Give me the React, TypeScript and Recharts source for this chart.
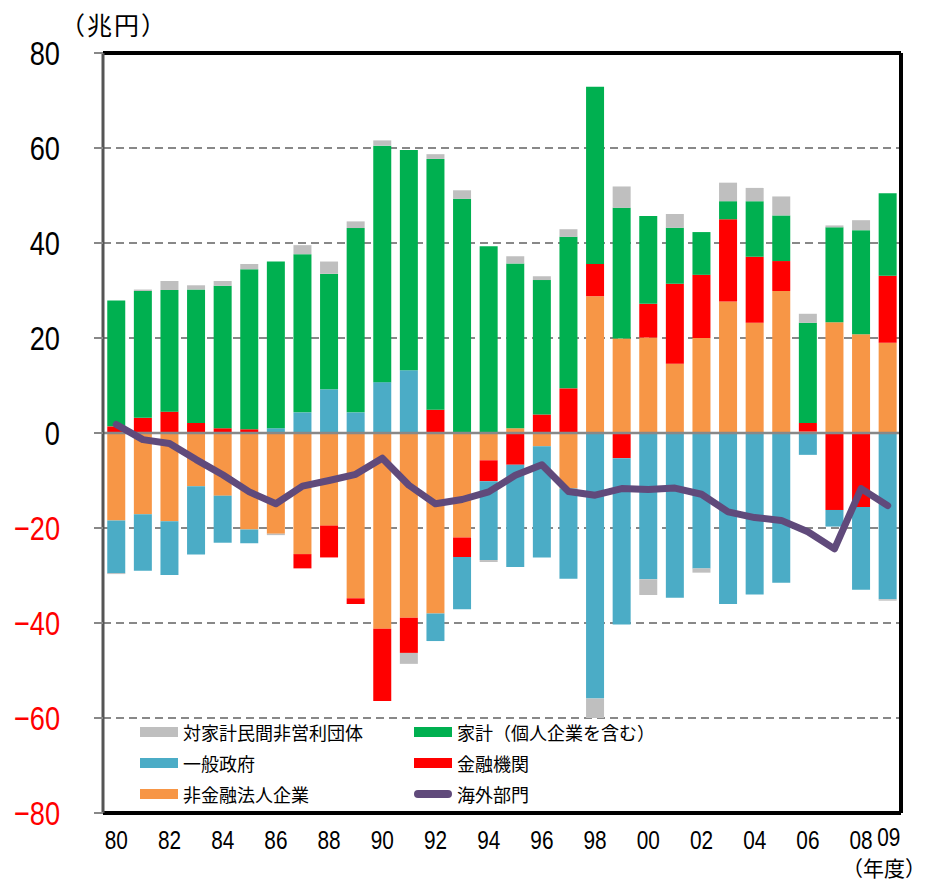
import React from 'react'
import {
  ComposedChart,
  Bar,
  Line,
  XAxis,
  YAxis,
  CartesianGrid,
  ReferenceLine,
  Legend,
} from 'recharts'

const years = [
  '80', '81', '82', '83', '84', '85', '86', '87', '88', '89',
  '90', '91', '92', '93', '94', '95', '96', '97', '98', '99',
  '00', '01', '02', '03', '04', '05', '06', '07', '08', '09',
]

// 非金融法人企業
const nonFinancial = [
  -18.4, -17.1, -18.6, -11.2, -13.2, -20.3, -21.2, -25.5, -19.5, -34.8,
  -41.2, -38.9, -38.0, -22.0, -5.75, 1.0, -2.8, -11.7, 28.8, 19.9,
  20.1, 14.6, 20.0, 27.7, 23.2, 29.9, 0.3, 23.3, 20.8, 19.0,
]
// 金融機関
const financial = [
  1.4, 3.2, 4.5, 2.1, 1.0, 0.8, 0, -3.0, -6.7, -1.2,
  -15.2, -7.4, 4.9, -4.1, -4.4, -6.7, 3.9, 9.4, 6.8, -5.3,
  7.1, 16.8, 13.3, 17.3, 13.9, 6.3, 1.8, -16.2, -15.6, 14.1,
]
// 一般政府
const government = [
  -11.1, -11.9, -11.3, -14.4, -9.9, -2.9, 1.0, 4.35, 9.2, 4.35,
  10.7, 13.2, -5.8, -11.0, -16.6, -21.5, -23.4, -19.0, -55.9, -35.0,
  -30.8, -34.7, -28.5, -36.0, -34.0, -31.5, -4.6, -3.5, -17.4, -35.0,
]
// 家計（個人企業を含む）
const households = [
  26.5, 26.7, 25.6, 28.1, 30.0, 33.7, 35.1, 33.3, 24.3, 38.8,
  49.8, 46.4, 52.8, 49.3, 39.3, 34.7, 28.3, 31.9, 37.3, 27.5,
  18.5, 11.8, 9.0, 3.8, 11.7, 9.6, 21.1, 20.0, 21.9, 17.4,
]
// 対家計民間非営利団体
const npish = [
  -0.2, 0.3, 1.9, 0.9, 1.0, 1.1, -0.3, 1.9, 2.6, 1.4,
  1.1, -2.3, 1.0, 1.8, -0.4, 1.5, 0.8, 1.6, -4.1, 4.5,
  -3.3, 2.9, -0.9, 3.9, 2.8, 4.0, 1.9, 0.4, 2.1, -0.3,
]
// 海外部門
const overseas = [
  1.8, -1.4, -2.2, -5.6, -8.8, -12.4, -14.9, -11.2, -10.0, -8.7,
  -5.3, -11.0, -14.9, -14.0, -12.4, -8.9, -6.7, -12.3, -13.1, -11.7,
  -11.9, -11.6, -12.9, -16.6, -17.8, -18.4, -20.8, -24.4, -11.7, -15.3,
]

const yTicks = [-80, -60, -40, -20, 0, 20, 40, 60, 80]

const data = years.map((y, i) => ({
  year: y,
  nonFinancial: nonFinancial[i],
  financial: financial[i],
  government: government[i],
  households: households[i],
  npish: npish[i],
  overseas: overseas[i],
}))

const NUM_FONT = "'Liberation Sans', 'Noto Sans CJK JP', sans-serif"
const JP_FONT = "'Noto Sans CJK JP', sans-serif"

const legendItems = [
  { name: '対家計民間非営利団体', color: '#BFBFBF', line: false },
  { name: '家計（個人企業を含む）', color: '#00B050', line: false },
  { name: '一般政府', color: '#4BACC6', line: false },
  { name: '金融機関', color: '#FF0000', line: false },
  { name: '非金融法人企業', color: '#F79646', line: false },
  { name: '海外部門', color: '#604A7B', line: true },
]

const renderLegend = () => (
  <div
    style={{
      display: 'grid',
      gridTemplateColumns: '274px 300px',
      rowGap: 9,
      fontFamily: JP_FONT,
      fontSize: 18,
      color: '#000',
    }}
  >
    {legendItems.map((item) => (
      <div key={item.name} style={{ display: 'flex', alignItems: 'center', height: 22 }}>
        <span
          style={{
            display: 'inline-block',
            width: 38,
            height: item.line ? 8 : 10,
            borderRadius: item.line ? 4 : 0,
            background: item.color,
            marginRight: 5,
          }}
        />
        <span>{item.name}</span>
      </div>
    ))}
  </div>
)

// narrow, tall numerals like the original
const YTick = (props: any) => {
  const { x, y, payload } = props
  const v = payload.value
  return (
    <text
      transform={`translate(${x},${y}) scale(0.8,1)`}
      textAnchor="end"
      dominantBaseline="central"
      fontFamily={NUM_FONT}
      fontSize={34}
      fill={v < 0 ? '#FF0000' : '#000'}
    >
      {v < 0 ? `−${Math.abs(v)}` : v}
    </text>
  )
}

const XTick = (props: any) => {
  const { x, y, payload, index } = props
  const last = index === years.length - 1
  if (index % 2 !== 0 && !last) return null
  return (
    <text
      transform={`translate(${x + (last ? 1 : 0)},${y + (last ? 22 : 25)}) scale(0.8,1)`}
      textAnchor="middle"
      dominantBaseline="central"
      fontFamily={NUM_FONT}
      fontSize={26}
      fill="#000"
    >
      {payload.value}
    </text>
  )
}

export default function App() {
  return (
    <div style={{ position: 'relative', left: -8, top: -8, width: 934, height: 884, background: '#fff' }}>
      <div
        style={{
          position: 'absolute',
          left: 60,
          top: 7,
          fontFamily: JP_FONT,
          fontSize: 25,
          letterSpacing: 2,
          lineHeight: '34px',
        }}
      >
        （兆円）
      </div>
      <div
        style={{
          position: 'absolute',
          left: 842,
          top: 856,
          fontFamily: JP_FONT,
          fontSize: 21,
          lineHeight: '22px',
          whiteSpace: 'nowrap',
        }}
      >
        （年度）
      </div>
      <ComposedChart
        width={934}
        height={884}
        data={data}
        stackOffset="sign"
        barCategoryGap="16%"
        margin={{ top: 52, right: 32, bottom: 31, left: 0 }}
      >
        <CartesianGrid vertical={false} stroke="#888" strokeWidth={2} strokeDasharray="8 5" />
        <XAxis
          dataKey="year"
          interval={0}
          height={40}
          tick={<XTick />}
          tickLine={false}
          tickSize={0}
          axisLine={{ stroke: '#000', strokeWidth: 4 }}
        />
        <XAxis
          xAxisId="top"
          dataKey="year"
          orientation="top"
          height={1}
          tick={false}
          tickLine={false}
          axisLine={{ stroke: '#000', strokeWidth: 4 }}
        />
        <YAxis
          type="number"
          domain={[-80, 80]}
          ticks={yTicks}
          interval={0}
          width={103}
          tick={<YTick />}
          tickSize={9}
          tickMargin={34}
          tickLine={{ stroke: '#888', strokeWidth: 2 }}
          axisLine={{ stroke: '#555', strokeWidth: 3 }}
        />
        <YAxis
          yAxisId="right"
          type="number"
          orientation="right"
          domain={[-80, 80]}
          ticks={yTicks}
          width={1}
          tick={false}
          tickLine={false}
          axisLine={{ stroke: '#000', strokeWidth: 4 }}
        />
        <Bar dataKey="nonFinancial" name="非金融法人企業" stackId="a" fill="#F79646" isAnimationActive={false} />
        <Bar dataKey="financial" name="金融機関" stackId="a" fill="#FF0000" isAnimationActive={false} />
        <Bar dataKey="government" name="一般政府" stackId="a" fill="#4BACC6" isAnimationActive={false} />
        <Bar dataKey="households" name="家計（個人企業を含む）" stackId="a" fill="#00B050" isAnimationActive={false} />
        <Bar dataKey="npish" name="対家計民間非営利団体" stackId="a" fill="#BFBFBF" isAnimationActive={false} />
        <ReferenceLine y={0} stroke="#888" strokeWidth={2.5} />
        <ReferenceLine y={80} stroke="#000" strokeWidth={4} />
        <ReferenceLine y={-80} stroke="#000" strokeWidth={4} />
        <Line
          dataKey="overseas"
          name="海外部門"
          xAxisId="top"
          yAxisId="right"
          type="linear"
          stroke="#604A7B"
          strokeWidth={7}
          strokeLinecap="round"
          strokeLinejoin="round"
          dot={false}
          isAnimationActive={false}
        />
        <Legend
          layout="horizontal"
          verticalAlign="middle"
          align="center"
          content={renderLegend}
          wrapperStyle={{ left: 140, top: 721, width: 600 }}
        />
      </ComposedChart>
    </div>
  )
}
